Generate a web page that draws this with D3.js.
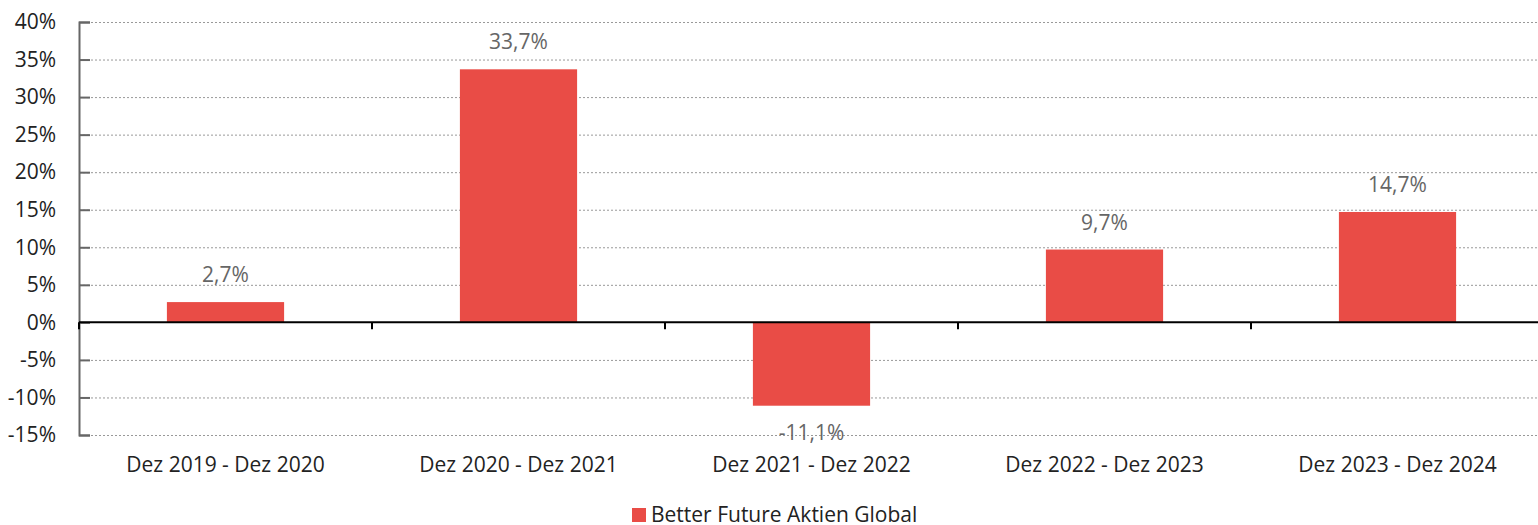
<!DOCTYPE html>
<html lang="de">
<head>
<meta charset="UTF-8">
<script src="https://d3js.org/d3.v7.min.js"></script>
<style>
  body { margin: 0; background: #fff; overflow: hidden; }
  svg text { font-family: "Open Sans", "Noto Sans", sans-serif; }
</style>
</head>
<body>
<script>
const categories = ["Dez 2019 - Dez 2020", "Dez 2020 - Dez 2021", "Dez 2021 - Dez 2022", "Dez 2022 - Dez 2023", "Dez 2023 - Dez 2024"];
const values = [2.7, 33.7, -11.1, 9.7, 14.7];
const yTicks = [-15, -10, -5, 0, 5, 10, 15, 20, 25, 30, 35, 40];
const seriesName = "Better Future Aktien Global";

const width = 1538, height = 525;
const margin = { top: 22, right: -6, bottom: 90, left: 79 };
const barColor = "#e94c46";
const fontSize = 21;

const svg = d3.select("body").append("svg")
    .attr("width", width)
    .attr("height", height);

const x = d3.scaleBand()
    .domain(categories)
    .range([margin.left, width - margin.right]);

const y = d3.scaleLinear()
    .domain([-15, 40])
    .range([height - margin.bottom, margin.top]);

// dotted grid
svg.append("g").selectAll("line")
    .data(yTicks.filter(d => d !== 0))
    .enter().append("line")
    .attr("x1", margin.left).attr("x2", width)
    .attr("y1", d => y(d) + 0.5).attr("y2", d => y(d) + 0.5)
    .attr("stroke", "#999")
    .attr("stroke-width", 1)
    .attr("stroke-dasharray", "2,2");

// y axis
const yAxis = d3.axisLeft(y)
    .tickValues(yTicks)
    .tickSize(-11)
    .tickPadding(23)
    .tickFormat(d => d + "%");

const gy = svg.append("g")
    .attr("transform", `translate(${margin.left},0)`)
    .call(yAxis);
gy.select(".domain").attr("stroke", "#666").attr("stroke-width", 2);
gy.selectAll(".tick line").attr("stroke", "#666").attr("stroke-width", 2);
gy.selectAll("text").attr("font-size", fontSize).attr("fill", "#222");

// bars
const barW = x.bandwidth() * 0.4;
svg.append("g").selectAll("rect")
    .data(values)
    .enter().append("rect")
    .attr("x", (d, i) => x(categories[i]) + (x.bandwidth() - barW) / 2)
    .attr("y", d => y(Math.max(0, d)))
    .attr("width", barW)
    .attr("height", d => Math.abs(y(d) - y(0)))
    .attr("fill", barColor);

// zero line with category ticks
const gx = svg.append("g")
    .attr("transform", `translate(0,${y(0)})`);
gx.append("line")
    .attr("x1", margin.left).attr("x2", width)
    .attr("stroke", "#000").attr("stroke-width", 2);
gx.selectAll(".sep")
    .data(categories)
    .enter().append("line")
    .attr("class", "sep")
    .attr("x1", d => x(d)).attr("x2", d => x(d))
    .attr("y1", 0).attr("y2", 7)
    .attr("stroke", "#000").attr("stroke-width", 2);

// category labels
svg.append("g").selectAll("text")
    .data(categories)
    .enter().append("text")
    .attr("x", d => x(d) + x.bandwidth() / 2)
    .attr("y", y(-15) + 37)
    .attr("text-anchor", "middle")
    .attr("font-size", fontSize)
    .attr("fill", "#222")
    .text(d => d);

// value labels
svg.append("g").selectAll("text")
    .data(values)
    .enter().append("text")
    .attr("x", (d, i) => x(categories[i]) + x.bandwidth() / 2)
    .attr("y", d => d >= 0 ? y(d) - 20 : y(d) + 34)
    .attr("text-anchor", "middle")
    .attr("font-size", fontSize)
    .attr("fill", "#666")
    .text(d => d.toFixed(1).replace(".", ",") + "%");

// legend
const legend = svg.append("g").attr("transform", "translate(632,508)");
legend.append("rect").attr("width", 14).attr("height", 14).attr("fill", barColor);
legend.append("text")
    .attr("x", 19).attr("y", 14)
    .attr("font-size", fontSize)
    .attr("fill", "#222")
    .text(seriesName);
</script>
</body>
</html>
